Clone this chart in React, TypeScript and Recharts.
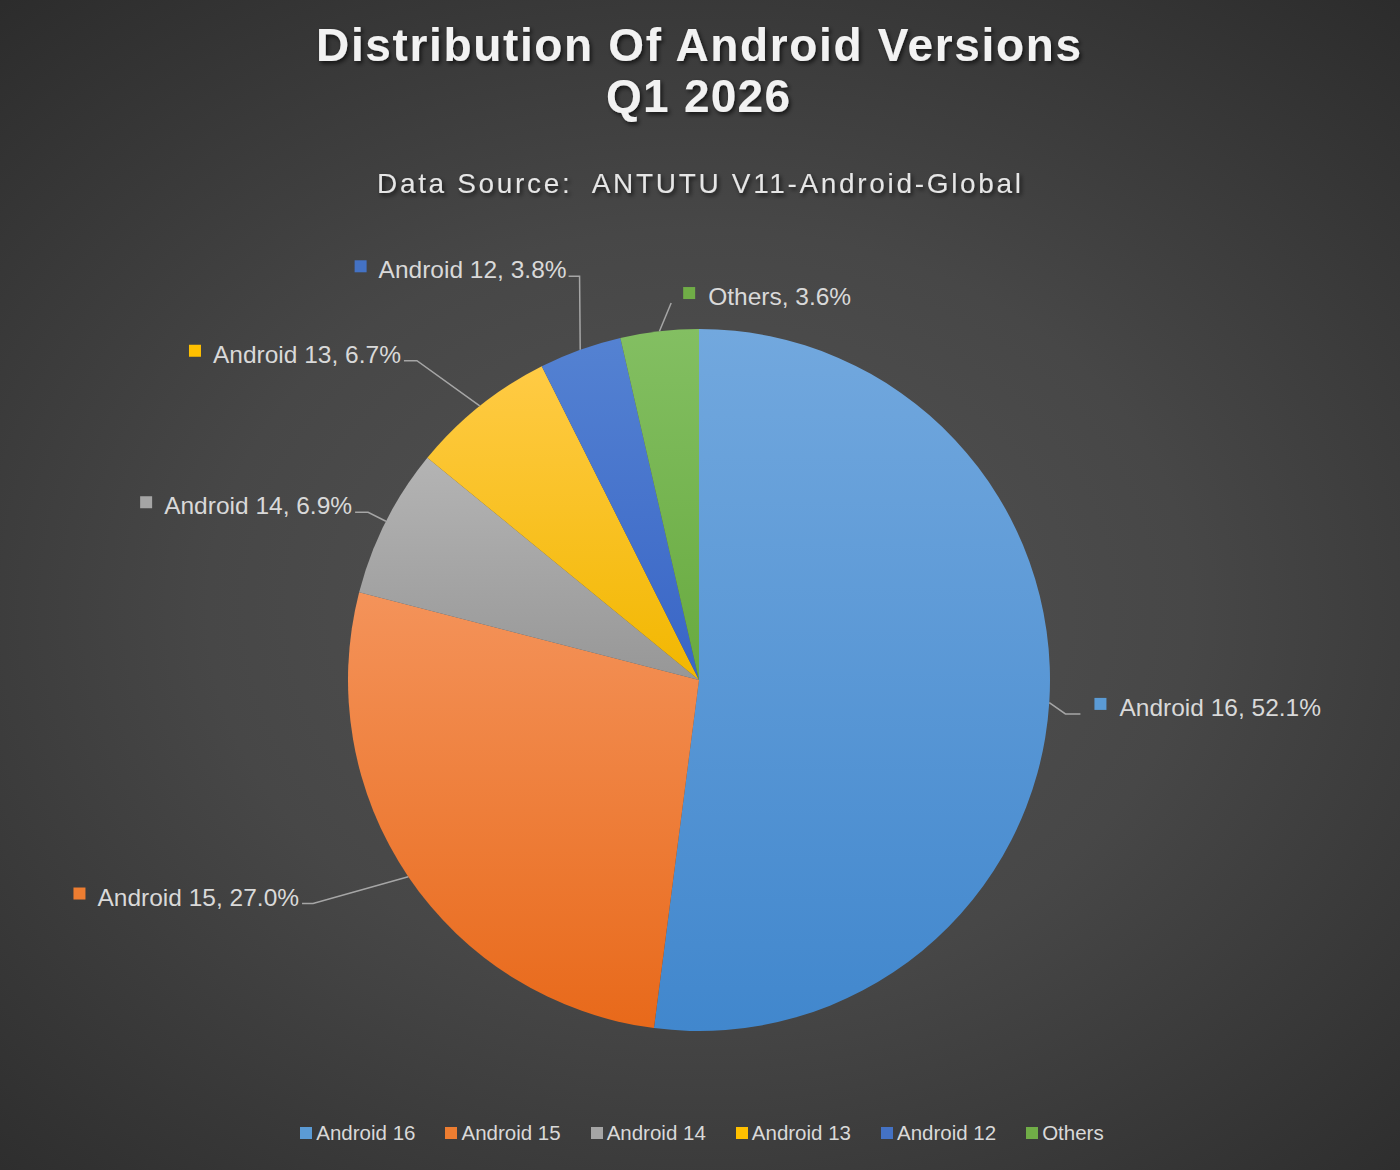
import React from 'react';
import { PieChart, Pie, Cell, Legend } from 'recharts';

// ---------- data ----------
const CATEGORIES = ['Android 16', 'Android 15', 'Android 14', 'Android 13', 'Android 12', 'Others'];
const SHARES = [52.1, 27.0, 6.9, 6.7, 3.8, 3.6];
const TITLE_LINES = ['Distribution Of Android Versions', 'Q1 2026'];
const SUBTITLE = 'Data Source:  ANTUTU V11-Android-Global';

// ---------- styles ----------
const GRADIENTS: [string, string][] = [
  ['#72a8de', '#4187cd'],
  ['#f4935a', '#e8691a'],
  ['#b4b4b4', '#979797'],
  ['#ffcb45', '#f2b700'],
  ['#5482d2', '#3965c6'],
  ['#83bf62', '#68aa3f'],
];
const SOLID = ['#5b9bd5', '#ed7d31', '#a5a5a5', '#ffc000', '#4472c4', '#70ad47'];

// label leader layout (extension beyond the rim, angular shift in degrees clockwise, horizontal tail, side)
const LABEL_LAYOUT = [
  { ext: 17, shift: 1.6, horiz: 15, side: 'right', gap: 14 },
  { ext: 95, shift: 4, horiz: 11, side: 'left', gap: 3 },
  { ext: 20, shift: 0, horiz: 13, side: 'left', gap: 3 },
  { ext: 75, shift: -2.8, horiz: 13, side: 'left', gap: 3 },
  { ext: 70, shift: 3.3, horiz: 11, side: 'left', gap: 2 },
  { ext: 27, shift: 2.25, horiz: 0, side: 'right', gap: 12 },
];

const W = 1400;
const H = 1170;
const LABEL_FONT_SIZE = 24.5;
const LABEL_FONT = `${LABEL_FONT_SIZE}px "Liberation Sans", Arial, sans-serif`;

let measureCtx: CanvasRenderingContext2D | null = null;
const measure = (text: string, font: string) => {
  if (!measureCtx) {
    const c = document.createElement('canvas');
    measureCtx = c.getContext('2d');
  }
  if (!measureCtx) return text.length * 12;
  measureCtx.font = font;
  return measureCtx.measureText(text).width;
};

const data = CATEGORIES.map((name, i) => ({ name, value: SHARES[i] }));

const rad = (d: number) => (d * Math.PI) / 180;

const renderLabel = (props: any) => {
  const { cx, cy, midAngle, outerRadius, index } = props;
  const L = LABEL_LAYOUT[index];
  const theta = 90 - midAngle; // clockwise from 12 o'clock
  const p0x = cx + outerRadius * Math.sin(rad(theta));
  const p0y = cy - outerRadius * Math.cos(rad(theta));
  const r1 = outerRadius + L.ext;
  const t1 = theta + L.shift;
  const p1x = cx + r1 * Math.sin(rad(t1));
  const p1y = cy - r1 * Math.cos(rad(t1));
  const dir = L.side === 'left' ? -1 : 1;
  const p2x = p1x + dir * L.horiz;
  const p2y = p1y;
  const text = `${CATEGORIES[index]}, ${SHARES[index].toFixed(1)}%`;
  const w = measure(text, LABEL_FONT);
  let textX: number;
  let squareX: number;
  if (L.side === 'left') {
    textX = p2x - L.gap - w;
    squareX = textX - 24;
  } else {
    squareX = p2x + L.gap;
    textX = squareX + 25;
  }
  const baseline = p2y + 2;
  return (
    <g key={`lbl-${index}`}>
      <polyline
        points={`${p0x},${p0y} ${p1x},${p1y} ${p2x},${p2y}`}
        fill="none"
        stroke="#a6a6a6"
        strokeWidth={1.5}
      />
      <rect x={squareX} y={baseline - 18} width={12} height={12} fill={SOLID[index]} />
      <text x={textX} y={baseline} fill="#d9d9d9" style={{ font: LABEL_FONT }}>
        {text}
      </text>
    </g>
  );
};

const renderLegend = () => (
  <div
    style={{
      display: 'flex',
      justifyContent: 'center',
      alignItems: 'center',
      gap: 30,
      fontFamily: '"Liberation Sans", Arial, sans-serif',
      fontSize: 20.5,
      color: '#d9d9d9',
      paddingLeft: 4,
    }}
  >
    {CATEGORIES.map((c, i) => (
      <div key={c} style={{ display: 'flex', alignItems: 'center' }}>
        <span style={{ display: 'inline-block', width: 12, height: 12, background: SOLID[i], marginRight: 4 }} />
        <span>{c}</span>
      </div>
    ))}
  </div>
);

export default function App() {
  return (
    <div
      style={{
        position: 'absolute',
        left: 0,
        top: 0,
        width: W,
        height: H,
        overflow: 'hidden',
        background:
          'radial-gradient(ellipse 78% 72% at 50% 52%, #535353 0%, #474747 45%, #2a2a2a 100%)',
      }}
    >
      <svg width={0} height={0} style={{ position: 'absolute' }}>
        <defs>
          {GRADIENTS.map(([a, b], i) => (
            <linearGradient key={i} id={`slice-grad-${i}`} x1="0" y1="0" x2="0" y2="1">
              <stop offset="0%" stopColor={a} />
              <stop offset="100%" stopColor={b} />
            </linearGradient>
          ))}
          <filter id="txt-shadow" x="-10%" y="-30%" width="120%" height="160%">
            <feDropShadow dx="2" dy="2.5" stdDeviation="2" floodColor="#000" floodOpacity="0.65" />
          </filter>
        </defs>
      </svg>

      <svg width={W} height={240} style={{ position: 'absolute', left: 0, top: 0 }}>
        <g filter="url(#txt-shadow)">
          <text
            x={698.5}
            y={61}
            textAnchor="middle"
            textLength={765}
            lengthAdjust="spacing"
            fill="#f2f2f2"
            style={{ font: 'bold 46px "Liberation Sans", Arial, sans-serif' }}
          >
            {TITLE_LINES[0]}
          </text>
          <text
            x={698}
            y={112}
            textAnchor="middle"
            textLength={184}
            lengthAdjust="spacing"
            fill="#f2f2f2"
            style={{ font: 'bold 46px "Liberation Sans", Arial, sans-serif' }}
          >
            {TITLE_LINES[1]}
          </text>
          <text
            x={699}
            y={193}
            textAnchor="middle"
            textLength={644}
            lengthAdjust="spacing"
            fill="#e6e6e6"
            style={{ font: '28px "Liberation Sans", Arial, sans-serif', whiteSpace: 'pre' }}
          >
            {SUBTITLE}
          </text>
        </g>
      </svg>

      <div style={{ position: 'absolute', left: 0, top: 0 }}>
        <PieChart width={W} height={H} margin={{ top: 0, right: 0, bottom: 0, left: 0 }}>
          <Pie
            data={data}
            dataKey="value"
            nameKey="name"
            cx={699}
            cy={680}
            outerRadius={351}
            startAngle={90}
            endAngle={-270}
            stroke="none"
            isAnimationActive={false}
            labelLine={false}
            label={renderLabel}
          >
            {data.map((d, i) => (
              <Cell key={d.name} fill={`url(#slice-grad-${i})`} />
            ))}
          </Pie>
          <Legend
            content={renderLegend}
            wrapperStyle={{ position: 'absolute', top: 1121, left: 0, width: W, bottom: 'auto' }}
          />
        </PieChart>
      </div>
    </div>
  );
}
